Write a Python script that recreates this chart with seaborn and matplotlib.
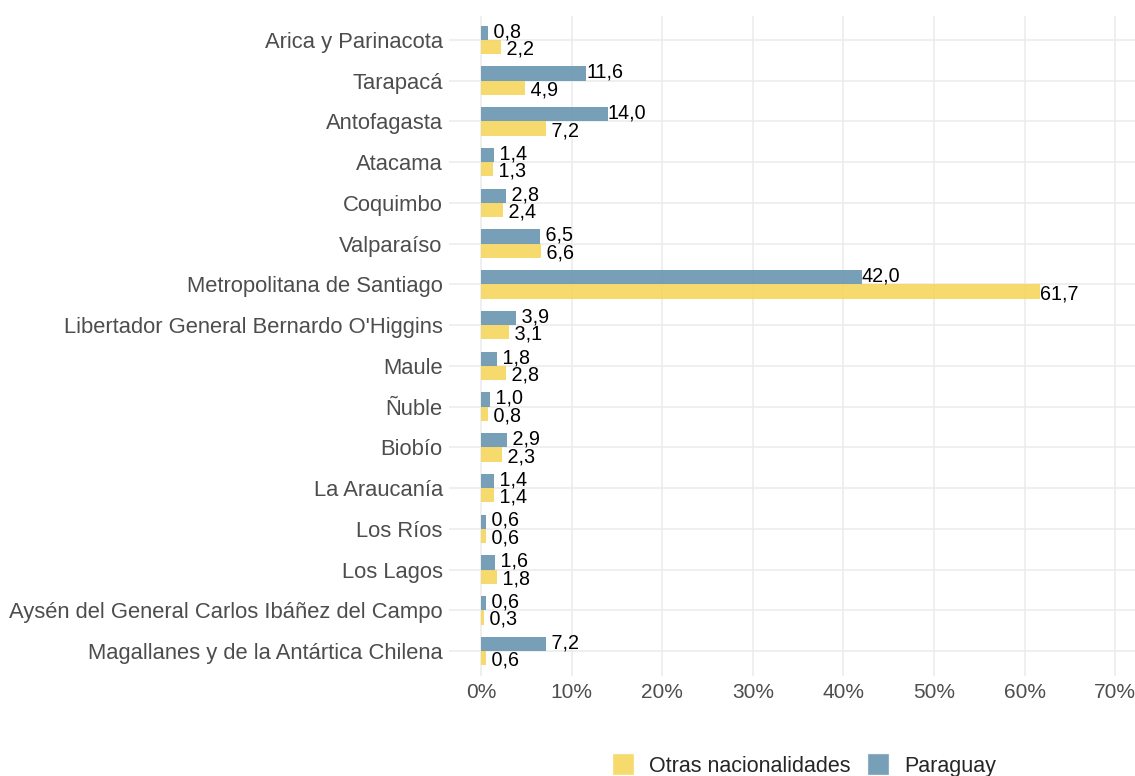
import matplotlib
matplotlib.use("Agg")
import matplotlib.pyplot as plt
from matplotlib.patches import Patch
from matplotlib.ticker import FuncFormatter
import pandas as pd
import seaborn as sns

regiones = [
    "Arica y Parinacota", "Tarapacá", "Antofagasta", "Atacama", "Coquimbo",
    "Valparaíso", "Metropolitana de Santiago",
    "Libertador General Bernardo O'Higgins", "Maule", "Ñuble", "Biobío",
    "La Araucanía", "Los Ríos", "Los Lagos",
    "Aysén del General Carlos Ibáñez del Campo",
    "Magallanes y de la Antártica Chilena",
]
paraguay = [0.8, 11.6, 14.0, 1.4, 2.8, 6.5, 42.0, 3.9, 1.8, 1.0, 2.9, 1.4, 0.6, 1.6, 0.6, 7.2]
otras = [2.2, 4.9, 7.2, 1.3, 2.4, 6.6, 61.7, 3.1, 2.8, 0.8, 2.3, 1.4, 0.6, 1.8, 0.3, 0.6]
grupos = ["Paraguay", "Otras nacionalidades"]
x_ticks = [0, 10, 20, 30, 40, 50, 60, 70]

colores = {"Paraguay": "#6995B1", "Otras nacionalidades": "#F5D65E"}

df = pd.DataFrame({
    "region": regiones * 2,
    "grupo": [grupos[0]] * len(regiones) + [grupos[1]] * len(regiones),
    "valor": paraguay + otras,
})

sns.set_theme(style="whitegrid")
plt.rcParams["font.family"] = ["Liberation Sans", "DejaVu Sans"]

W, H = 1135, 776
fig = plt.figure(figsize=(W / 100, H / 100), dpi=100)
ax = fig.add_axes([449 / W, 1 - 675.5 / H, (W - 449) / W, (675.5 - 15.5) / H])

ancho = 0.7
sns.barplot(data=df, y="region", x="valor", hue="grupo", hue_order=grupos,
            order=regiones, palette=colores, width=ancho, alpha=0.9,
            orient="h", ax=ax, legend=False, saturation=1)

for patch in ax.patches:
    patch.set_edgecolor("none")


def etiqueta(v):
    # fixed-width label, comma as decimal separator
    return f"{v:>4.1f}".replace(".", ",")


# value labels at the end of each bar
desplazamiento = ancho / 4
for i in range(len(regiones)):
    ax.text(paraguay[i], i - desplazamiento - 0.03, etiqueta(paraguay[i]),
            ha="left", va="center", fontsize=14.2, color="black")
    ax.text(otras[i], i + desplazamiento + 0.05, etiqueta(otras[i]),
            ha="left", va="center", fontsize=14.2, color="black")

x0 = 481
px_por_unidad = 9.06
ax.set_xlim(-(x0 - 449) / px_por_unidad, (W - x0) / px_por_unidad)
ax.set_ylim(len(regiones) - 0.4, -0.6)
ax.set_xticks(x_ticks)
ax.xaxis.set_major_formatter(FuncFormatter(lambda v, p: f"{v:.0f}%"))
ax.set_xlabel("")
ax.set_ylabel("")
ax.tick_params(axis="y", labelsize=15.8, colors="#4D4D4D", length=0, pad=4.5)
ax.tick_params(axis="x", labelsize=15, colors="#4D4D4D", length=0, pad=5.5)
for sp in ax.spines.values():
    sp.set_visible(False)
ax.grid(True, color="#EBEBEB", linewidth=1.1)
ax.set_axisbelow(True)
ax.set_facecolor("white")

handles = [Patch(facecolor=colores["Otras nacionalidades"], alpha=0.9, label="Otras nacionalidades"),
           Patch(facecolor=colores["Paraguay"], alpha=0.9, label="Paraguay")]
fig.legend(handles=handles, loc="center", bbox_to_anchor=(804 / W, 1 - 765 / H),
           ncol=2, frameon=False, fontsize=15.5, handlelength=1.05, handleheight=1.2,
           columnspacing=0.75, handletextpad=0.7, borderpad=0)

fig.savefig("out.png", dpi=100, facecolor="white")
